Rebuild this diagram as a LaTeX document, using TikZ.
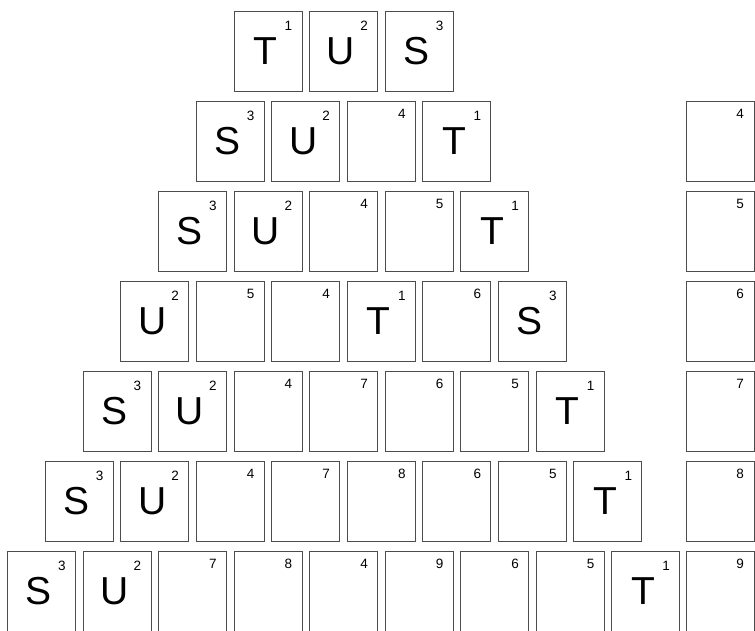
\documentclass[tikz,border=0pt]{standalone}
\usepackage{fontspec}
\setmainfont{Liberation Sans}
\usetikzlibrary{positioning}

\tikzset{
  tile/.style={draw=black!70, line width=1pt, fill=white, inner sep=0pt,
    minimum width=68pt, minimum height=80pt, anchor=north west,
    font=\fontsize{39}{39}\selectfont},
  idx/.style={inner sep=0pt, font=\fontsize{13.5}{13.5}\selectfont},
}

\begin{document}
\begin{tikzpicture}[x=1pt, y=-1pt]
    \useasboundingbox (0,0) rectangle (755,630);

    % Pyramid rows: letter/number per tile (- = no letter)
    \foreach \r/\cells in {1/{T/1,U/2,S/3},
                           2/{S/3,U/2,-/4,T/1},
                           3/{S/3,U/2,-/4,-/5,T/1},
                           4/{U/2,-/5,-/4,T/1,-/6,S/3},
                           5/{S/3,U/2,-/4,-/7,-/6,-/5,T/1},
                           6/{S/3,U/2,-/4,-/7,-/8,-/6,-/5,T/1},
                           7/{S/3,U/2,-/7,-/8,-/4,-/9,-/6,-/5,T/1}} {
        \foreach \l/\n [count=\c] in \cells {
            \if-\l \def\dy{-13pt}\def\txt{}\else\def\dy{-15pt}\def\txt{\hspace*{-5pt}\l}\fi
            \node[tile] (t\r-\c) at ({7+37.75*(7-\r)+75.5*(\c-1)}, {11+90*(\r-1)}) {\txt};
            \node[idx] (n\r-\c) at ([xshift=-14pt, yshift=\dy]t\r-\c.north east) {\n};
        }
    }

    % Right column
    \foreach \n [count=\r from 2] in {4,5,6,7,8,9} {
        \node[tile] (side\r) at (685.5, {11+90*(\r-1)}) {};
        \node[idx] (sn\r) at ([xshift=-14.5pt, yshift=-13pt]side\r.north east) {\n};
    }
\end{tikzpicture}
\end{document}
